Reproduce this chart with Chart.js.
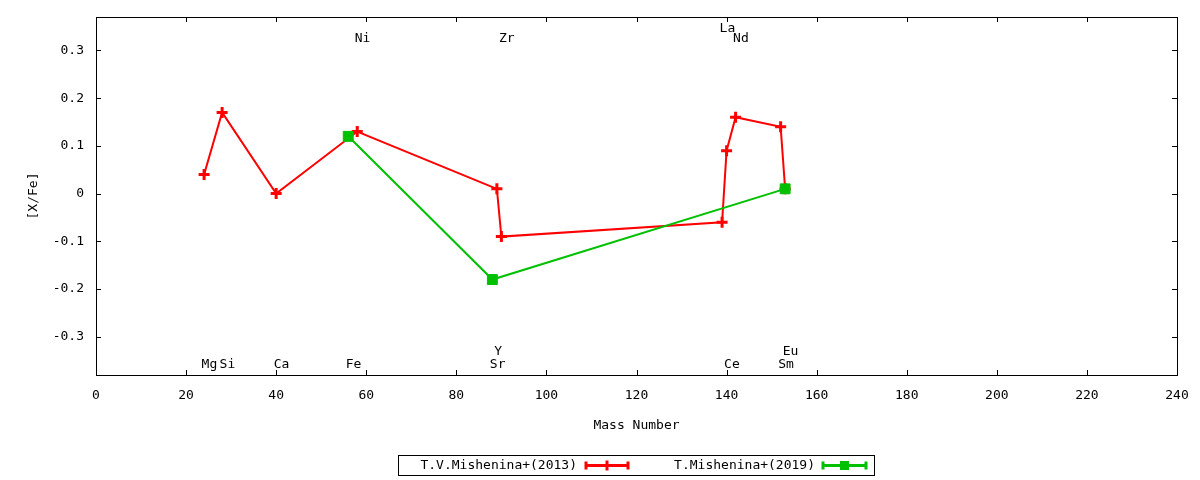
<!DOCTYPE html>
<html>
<head>
<meta charset="utf-8">
<script src="https://cdn.jsdelivr.net/npm/chart.js@4/dist/chart.umd.min.js"></script>
<style>
  html, body { margin: 0; padding: 0; background: #ffffff; }
  #wrap { width: 1200px; height: 480px; position: relative; }
</style>
</head>
<body>
<div id="wrap"><canvas id="c"></canvas></div>
<script>
// ---- data ----
const series2013Label = 'T.V.Mishenina+(2013)';
const series2013Mass  = [24, 28, 40, 58, 89, 90, 139, 140, 142, 152, 153];
const series2013Value = [0.04, 0.17, 0.00, 0.13, 0.01, -0.09, -0.06, 0.09, 0.16, 0.14, 0.01];

const series2019Label = 'T.Mishenina+(2019)';
const series2019Mass  = [56, 88, 153];
const series2019Value = [0.12, -0.18, 0.01];

const elementNames = ['Mg', 'Si', 'Ca', 'Fe', 'Sr', 'Y', 'Zr', 'Ni', 'La', 'Ce', 'Nd', 'Sm', 'Eu'];
const elementMass  = [24, 28, 40, 56, 88, 89, 90, 58, 139, 140, 142, 152, 153];
const elementLevel = [-0.359, -0.359, -0.359, -0.359, -0.359, -0.330, 0.324, 0.324, 0.345, -0.359, 0.324, -0.359, -0.330];

const xTicks = [0, 20, 40, 60, 80, 100, 120, 140, 160, 180, 200, 220, 240];
const yTicks = [-0.3, -0.2, -0.1, 0, 0.1, 0.2, 0.3];
const xTitle = 'Mass Number';
const yTitle = '[X/Fe]';

// ---- styles ----
const RED = '#ff0000';
const GREEN = '#00c000';
const FONT = '"DejaVu Sans Mono", "Liberation Mono", monospace';

function pts(xs, ys) { return xs.map((x, i) => ({ x: x, y: ys[i] })); }

const framePlugin = {
  id: 'frame',
  afterDatasetsDraw(chart) {
    const ctx = chart.ctx;
    const a = chart.chartArea;
    const xs = chart.scales.x, ys = chart.scales.y;
    ctx.save();
    ctx.strokeStyle = '#000000';
    ctx.lineWidth = 1;
    ctx.strokeRect(Math.round(a.left) + 0.5, Math.round(a.top) + 0.5,
                   Math.round(a.right - a.left), Math.round(a.bottom - a.top));
    const tl = 5;
    ctx.beginPath();
    xs.ticks.forEach(t => {
      const px = Math.round(xs.getPixelForValue(t.value)) + 0.5;
      if (px <= a.left + 1 || px >= a.right - 1) return;
      ctx.moveTo(px, a.bottom); ctx.lineTo(px, a.bottom - tl);
      ctx.moveTo(px, a.top); ctx.lineTo(px, a.top + tl);
    });
    ys.ticks.forEach(t => {
      const py = Math.round(ys.getPixelForValue(t.value)) + 0.5;
      ctx.moveTo(a.left, py); ctx.lineTo(a.left + tl, py);
      ctx.moveTo(a.right, py); ctx.lineTo(a.right - tl, py);
    });
    ctx.stroke();

    // element labels
    ctx.fillStyle = '#000000';
    ctx.font = '13px ' + FONT;
    ctx.textAlign = 'left';
    ctx.textBaseline = 'middle';
    elementNames.forEach((n, i) => {
      const px = xs.getPixelForValue(elementMass[i]) - 2.5;
      const py = ys.getPixelForValue(elementLevel[i]);
      ctx.fillText(n, px, py);
    });
    ctx.restore();
  },
  afterDraw(chart) {
    const ctx = chart.ctx;
    ctx.save();
    // legend box
    ctx.strokeStyle = '#000000';
    ctx.lineWidth = 1;
    ctx.strokeRect(398.5, 455.5, 476, 20);
    ctx.font = '13px ' + FONT;
    ctx.fillStyle = '#000000';
    ctx.textAlign = 'right';
    ctx.textBaseline = 'middle';
    const entries = [
      { ds: chart.data.datasets[1], textX: 577, x0: 586, x1: 628 },
      { ds: chart.data.datasets[0], textX: 815, x0: 823, x1: 866 }
    ];
    const yc = 465.5;
    entries.forEach(e => {
      ctx.fillStyle = '#000000';
      ctx.fillText(e.ds.label, e.textX, yc);
      ctx.strokeStyle = e.ds.borderColor;
      ctx.fillStyle = e.ds.borderColor;
      ctx.lineWidth = 3;
      ctx.beginPath();
      ctx.moveTo(e.x0, yc); ctx.lineTo(e.x1, yc);
      ctx.moveTo(e.x0, yc - 4); ctx.lineTo(e.x0, yc + 4);
      ctx.moveTo(e.x1, yc - 4); ctx.lineTo(e.x1, yc + 4);
      ctx.stroke();
      const mx = (e.x0 + e.x1) / 2;
      if (e.ds.pointStyle === 'rect') {
        ctx.fillRect(mx - 4.5, yc - 4.5, 9, 9);
      } else {
        ctx.beginPath();
        ctx.moveTo(mx, yc - 5); ctx.lineTo(mx, yc + 5);
        ctx.stroke();
      }
    });
    ctx.restore();
  }
};

new Chart(document.getElementById('c'), {
  type: 'scatter',
  data: {
    datasets: [
      {
        label: series2019Label,
        data: pts(series2019Mass, series2019Value),
        showLine: true,
        borderColor: GREEN,
        backgroundColor: GREEN,
        borderWidth: 2,
        pointStyle: 'rect',
        pointRadius: 7,
        pointBorderWidth: 1,
        pointHoverRadius: 7,
        order: 0
      },
      {
        label: series2013Label,
        data: pts(series2013Mass, series2013Value),
        showLine: true,
        borderColor: RED,
        backgroundColor: RED,
        borderWidth: 2,
        pointStyle: 'cross',
        pointRadius: 5.5,
        pointBorderWidth: 3,
        pointHoverRadius: 5.5,
        order: 1
      }
    ]
  },
  options: {
    responsive: true,
    maintainAspectRatio: false,
    animation: false,
    devicePixelRatio: 1,
    layout: { padding: { left: 0, right: 23, top: 17, bottom: 47 } },
    plugins: { legend: { display: false }, tooltip: { enabled: false } },
    scales: {
      x: {
        type: 'linear',
        min: 0, max: 240,
        afterBuildTicks: s => { s.ticks = xTicks.map(v => ({ value: v })); },
        afterFit: s => { s.height = 58; s.paddingLeft = 0; s.paddingRight = 0; },
        grid: { display: false, drawTicks: false },
        border: { display: false },
        ticks: { padding: 13, color: '#000000', font: { family: FONT, size: 13 }, maxRotation: 0 },
        title: { display: true, text: xTitle, color: '#000000', font: { family: FONT, size: 13 }, padding: { top: 0, bottom: 0 } }
      },
      y: {
        type: 'linear',
        min: -0.38, max: 0.37,
        afterBuildTicks: s => { s.ticks = yTicks.map(v => ({ value: v })); },
        afterFit: s => { s.width = 96; s.paddingTop = 0; s.paddingBottom = 0; },
        grid: { display: false, drawTicks: false },
        border: { display: false },
        ticks: {
          padding: 12, color: '#000000', font: { family: FONT, size: 13 },
          callback: v => String(Math.round(v * 10) / 10)
        },
        title: { display: true, text: yTitle, color: '#000000', font: { family: FONT, size: 13 }, padding: { top: 26, bottom: 0 } }
      }
    }
  },
  plugins: [framePlugin]
});
</script>
</body>
</html>
